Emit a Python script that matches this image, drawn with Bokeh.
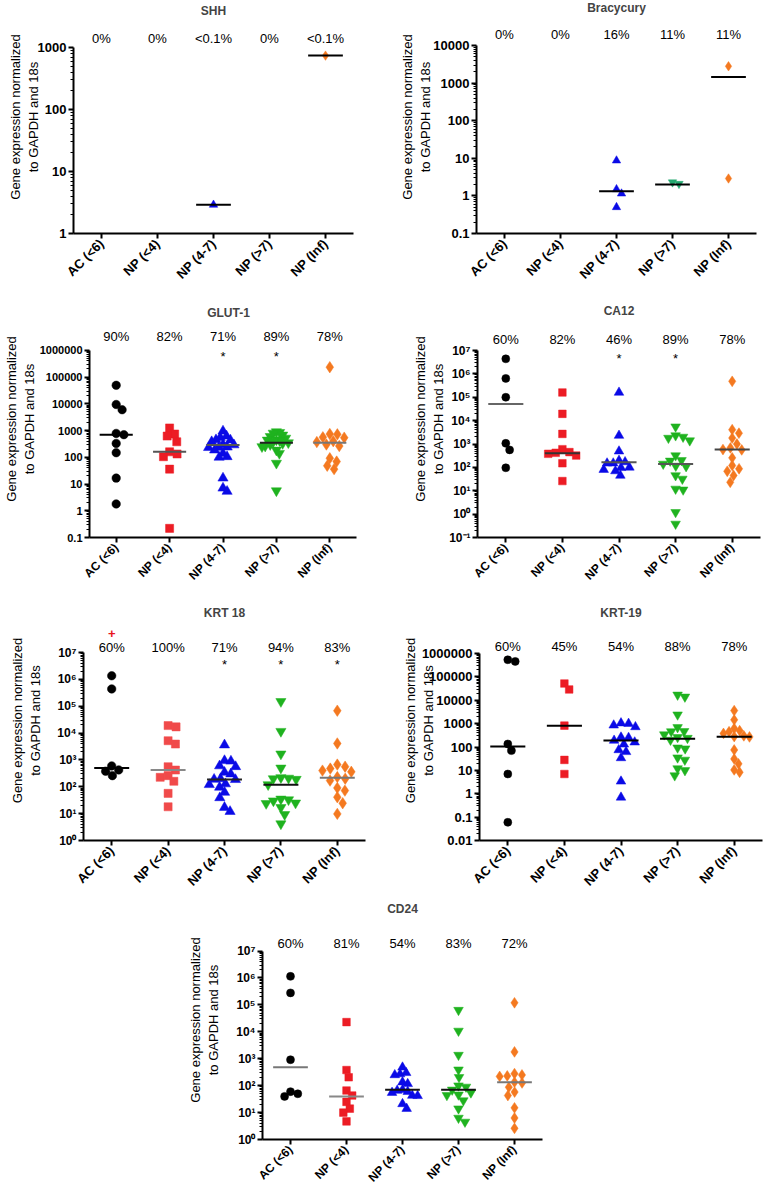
import math
import numpy as np
from bokeh.plotting import figure
from bokeh.core.properties import value
from bokeh.models import (ColumnDataSource, FactorRange, Range1d, FixedTicker,
                          CustomJSTickFormatter, Label, LabelSet, Spacer)
from bokeh.layouts import row, column
from bokeh.embed import file_html
from bokeh.resources import INLINE

# ---------------- data ----------------
CATEGORIES = ["AC (<6)", "NP (<4)", "NP (4-7)", "NP (>7)", "NP (Inf)"]
MARKERS = ["circle", "square", "triangle", "inverted_triangle", "diamond"]

SHH_VALUES = [[], [], [2.9], [], [740]]
SHH_MEDIANS = [None, None, 2.9, None, 740]
SHH_PCT = ["0%", "0%", "<0.1%", "0%", "<0.1%"]

BRA_VALUES = [[], [], [8.7, 1.5, 1.15, 0.5], [2.3, 2.1], [2800, 2.9]]
BRA_MEDIANS = [None, None, 1.33, 2.0, 1450]
BRA_PCT = ["0%", "0%", "16%", "11%", "11%"]

GLUT_VALUES = [
    [49000, 9400, 6000, 780, 700, 330, 148, 16.6, 1.8],
    [1250, 740, 620, 380, 160, 133, 105, 36, 0.22],
    [950, 620, 550, 450, 440, 380, 300, 290, 240, 235, 230, 186, 140, 105, 100, 16.6, 7, 5.3],
    [900, 850, 800, 680, 600, 520, 450, 440, 420, 380, 350, 330, 300, 263, 250, 186, 140, 60, 5.6],
    [234000, 740, 720, 560, 540, 400, 370, 300, 263, 92, 69, 48, 36],
]
GLUT_MEDIANS = [700, 160, 290, 350, 350]
GLUT_PCT = ["90%", "82%", "71%", "89%", "78%"]
GLUT_STARS = ["", "", "*", "*", ""]

CA12_VALUES = [
    [4.4e6, 6.4e5, 1.0e5, 1070, 560, 96],
    [160000, 19500, 2700, 600, 450, 420, 380, 320, 150, 26],
    [160000, 2300, 490, 195, 170, 150, 150, 100, 96, 80, 70, 45],
    [5500, 2300, 2000, 1800, 1400, 320, 200, 190, 140, 115, 110, 45, 32, 12, 11, 1.2, 0.38],
    [480000, 4100, 2900, 1800, 1000, 680, 580, 560, 255, 120, 87, 68, 45, 23],
]
CA12_MEDIANS = [51000, 400, 165, 140, 575]
CA12_PCT = ["60%", "82%", "46%", "89%", "78%"]
CA12_STARS = ["", "", "*", "*", ""]

KRT18_VALUES = [
    [1.36e6, 4.4e5, 600, 425, 380, 260],
    [19000, 17000, 5200, 3900, 560, 420, 260, 225, 160, 57, 18],
    [3600, 940, 900, 600, 560, 345, 300, 200, 190, 185, 128, 120, 96, 62, 39, 17, 12],
    [150000, 11600, 1670, 500, 220, 210, 200, 190, 120, 35, 33, 30, 25, 24, 17, 9.3, 4.2],
    [68000, 4100, 670, 560, 475, 400, 360, 230, 200, 170, 91, 72, 41, 24.5, 9.8],
]
KRT18_MEDIANS = [500, 425, 185, 120, 215]
KRT18_PCT = ["60%", "100%", "71%", "94%", "83%"]
KRT18_STARS = ["", "", "*", "*", "*"]
KRT18_PLUS = ["+", "", "", "", ""]

KRT19_VALUES = [
    [540000, 460000, 135, 70, 7, 0.06],
    [52000, 29000, 820, 28, 7],
    [1050, 1000, 850, 720, 260, 250, 190, 160, 130, 75, 62, 34, 3.4, 0.7],
    [17000, 14000, 2400, 690, 470, 460, 340, 260, 240, 200, 93, 85, 35, 28, 12, 10, 6],
    [3600, 1450, 620, 500, 450, 380, 300, 280, 270, 75, 31, 19, 10.5, 8.3],
]
KRT19_MEDIANS = [104, 820, 190, 225, 275]
KRT19_PCT = ["60%", "45%", "54%", "88%", "78%"]

CD24_VALUES = [
    [1.15e6, 2.8e5, 920, 60, 50, 40],
    [23000, 380, 205, 66, 43, 25, 14, 10, 4.7],
    [480, 300, 270, 250, 135, 117, 70, 66, 60, 55, 43, 42, 21, 14],
    [64000, 10800, 1370, 390, 205, 100, 90, 70, 55, 46, 44, 28, 14, 6.3, 4.5],
    [120000, 1800, 280, 250, 230, 220, 135, 126, 88, 58, 43, 15, 6.3, 2.6],
]
CD24_MEDIANS = [480, 40, 70, 70, 135]
CD24_PCT = ["60%", "81%", "54%", "83%", "72%"]

Y_LABEL = "Gene expression normalized\nto GAPDH and 18s"

# ---------------- styles ----------------
FONT = "Liberation Sans"
COLORS = ["#000000", "#EC1C24", "#0A0AE6", "#1FB21F", "#F47920"]
COLORS_BRA = ["#000000", "#EC1C24", "#0A0AE6", "#25A870", "#F47920"]
COLORS_KRT18 = ["#000000", "#F04A4A", "#0A0AE6", "#1FB21F", "#F47920"]
MARKER_SCALE = {"circle": 1.0, "square": 0.95, "triangle": 1.2,
                "inverted_triangle": 1.2, "diamond": 1.35}

PLAIN_JS = """
const e = Math.round(Math.log10(tick));
if (e >= 0) { return "1" + "0".repeat(e); }
return "0." + "0".repeat(-e - 1) + "1";
"""
SUP_JS = """
const e = Math.round(Math.log10(tick));
const m = {"-": "\u207b", "0": "\u2070", "1": "\u00b9", "2": "\u00b2", "3": "\u00b3",
           "4": "\u2074", "5": "\u2075", "6": "\u2076", "7": "\u2077", "8": "\u2078", "9": "\u2079"};
return "10" + String(e).split("").map(c => m[c]).join("");
"""


def swarm(vals, px_per_dec, d, maxw):
    """Beeswarm horizontal offsets (pixels), squeezed to +-maxw."""
    vals = np.asarray(vals, dtype=float)
    ys = np.log10(vals) * px_per_dec
    order = np.argsort(-ys, kind="stable")
    placed = []
    xs = np.zeros(len(vals))
    for i in order:
        y = ys[i]
        forb = []
        for (px, py) in placed:
            dy = abs(py - y)
            if dy < d:
                w = math.sqrt(d * d - dy * dy)
                forb.append((px - w, px + w))
        cands = [0.0] + [e for iv in forb for e in iv]
        cands.sort(key=lambda c: (round(abs(c), 6), -c))
        chosen = 0.0
        for c in cands:
            if all(not (lo + 1e-6 < c < hi - 1e-6) for lo, hi in forb):
                chosen = c
                break
        xs[i] = chosen
        placed.append((chosen, y))
    m = np.max(np.abs(xs)) if len(xs) else 0
    if m > maxw:
        xs = xs * (maxw / m)
    return xs


def make_panel(title, values, medians, pcts, dec_lo, dec_hi, w, h, left, right, top, bottom,
               sup=False, stars=None, plus=None, median_colors=None, colors=COLORS,
               msize=8, tick_fs="12px", cat_fs="12px", title_dy=38, pct_dy=9,
               star_dy=-7, plus_dy=19, ylab_standoff=0):
    fh = h - top - bottom          # height of the y axis (bottom tick to top tick)
    fw = w - left - right
    px_per_dec = fh / (dec_hi - dec_lo)
    spacing = fw / len(CATEGORIES)
    y_end = 10.0 ** (dec_hi + top / px_per_dec)   # frame reaches the top of the figure
    p = figure(width=w, height=h, x_range=FactorRange(*CATEGORIES),
               y_range=Range1d(10.0 ** dec_lo, y_end), y_axis_type="log",
               output_backend="svg", toolbar_location=None,
               min_border_left=left, min_border_right=right,
               min_border_top=0, min_border_bottom=bottom)
    p.title.visible = False
    p.outline_line_color = None
    p.xgrid.visible = False
    p.ygrid.visible = False
    p.background_fill_color = "white"
    p.border_fill_color = "white"

    if median_colors is None:
        median_colors = ["#000000"] * 5

    for i, cat in enumerate(CATEGORIES):
        vals = values[i]
        if len(vals) == 0:
            continue
        mk = MARKERS[i]
        sz = msize * MARKER_SCALE[mk]
        offs = swarm(vals, px_per_dec, msize * 0.95, 0.27 * spacing) / spacing
        src = ColumnDataSource(dict(x=[(cat, float(o)) for o in offs], y=list(vals)))
        p.scatter(x="x", y="y", source=src, marker=mk, size=sz,
                  fill_color=colors[i], line_color=colors[i], line_width=0.5)
    for i, cat in enumerate(CATEGORIES):
        if medians[i] is None:
            continue
        p.rect(x=[cat], y=[medians[i]], width=0.62, height=2, height_units="screen",
               fill_color=median_colors[i], line_color=None)

    # axes
    majors = [10.0 ** k for k in range(dec_lo, dec_hi + 1)]
    minors = [m * 10.0 ** k for k in range(dec_lo, dec_hi) for m in range(2, 10)]
    p.yaxis.ticker = FixedTicker(ticks=majors, minor_ticks=minors)
    p.yaxis.bounds = (10.0 ** dec_lo, 10.0 ** dec_hi)
    p.yaxis.formatter = CustomJSTickFormatter(code=SUP_JS if sup else PLAIN_JS)
    for ax in (p.xaxis, p.yaxis):
        ax.axis_line_width = 2
        ax.axis_line_color = "black"
        ax.major_tick_line_width = 2
        ax.major_tick_line_color = "black"
        ax.major_tick_in = 0
        ax.major_tick_out = 5
        ax.major_label_text_font = FONT
        ax.major_label_text_font_style = "bold"
        ax.major_label_text_color = "black"
    p.yaxis.minor_tick_in = 0
    p.yaxis.minor_tick_out = 3
    p.yaxis.minor_tick_line_color = "black"
    p.yaxis.minor_tick_line_width = 1
    p.yaxis.major_label_text_font_size = tick_fs
    p.yaxis.major_label_standoff = 2
    p.yaxis.axis_label = Y_LABEL
    p.yaxis.axis_label_text_font = FONT
    p.yaxis.axis_label_text_font_size = "13px"
    p.yaxis.axis_label_text_font_style = "normal"
    p.yaxis.axis_label_text_color = "black"
    p.yaxis.axis_label_standoff = ylab_standoff
    p.xaxis.minor_tick_line_color = None
    p.xaxis.major_label_text_font_size = cat_fs
    p.xaxis.major_label_orientation = math.pi / 4
    p.xaxis.major_label_standoff = 3

    # texts above the y axis (inside the frame)
    p.add_layout(Label(x=fw / 2, y=fh + title_dy, x_units="screen", y_units="screen",
                       text=title, text_font=FONT, text_font_style="bold",
                       text_font_size="12px", text_align="center", text_baseline="middle"))
    psrc = ColumnDataSource(dict(x=CATEGORIES, t=pcts))
    p.add_layout(LabelSet(x="x", y=fh + pct_dy, y_units="screen", text="t", source=psrc,
                          text_font=value(FONT), text_font_size="13px", text_align="center",
                          text_baseline="middle", text_color="black"))
    if stars is not None:
        ssrc = ColumnDataSource(dict(x=CATEGORIES, t=stars))
        p.add_layout(LabelSet(x="x", y=fh + star_dy, y_units="screen", text="t", source=ssrc,
                              text_font=value(FONT), text_font_size="13px", text_align="center",
                              text_baseline="middle", text_color="black"))
    if plus is not None:
        plsrc = ColumnDataSource(dict(x=CATEGORIES, t=plus))
        p.add_layout(LabelSet(x="x", y=fh + plus_dy, y_units="screen", text="t", source=plsrc,
                              text_font=value(FONT), text_font_size="13px",
                              text_font_style="bold", text_align="center",
                              text_baseline="middle", text_color="#E8141C"))
    return p


p_shh = make_panel("SHH", SHH_VALUES, SHH_MEDIANS, SHH_PCT, 0, 3,
                   382, 300, 73, 29, 47, 67, msize=7, tick_fs="13px", cat_fs="13px",
                   title_dy=37, pct_dy=9, ylab_standoff=-6)
p_bra = make_panel("Bracycury", BRA_VALUES, BRA_MEDIANS, BRA_PCT, -1, 4,
                   382, 300, 94, 8, 45, 67, colors=COLORS_BRA, msize=7, tick_fs="13px",
                   cat_fs="13px", title_dy=38, pct_dy=11, ylab_standoff=-3)
p_glut = make_panel("GLUT-1", GLUT_VALUES, GLUT_MEDIANS, GLUT_PCT, -1, 6,
                    382, 300, 78, 26, 50, 62, stars=GLUT_STARS,
                    median_colors=["#000000", "#555555", "#555555", "#222222", "#777777"],
                    msize=8.5, tick_fs="11px", cat_fs="12px", title_dy=37, pct_dy=13,
                    star_dy=-6.6, ylab_standoff=0)
p_ca12 = make_panel("CA12", CA12_VALUES, CA12_MEDIANS, CA12_PCT, -1, 7,
                    382, 300, 95, 4, 50, 63, sup=True, stars=CA12_STARS,
                    median_colors=["#666666", "#333333", "#555555", "#555555", "#444444"],
                    msize=8, tick_fs="12px", cat_fs="12px", title_dy=40, pct_dy=11,
                    star_dy=-7.6, ylab_standoff=0)
p_krt18 = make_panel("KRT 18", KRT18_VALUES, KRT18_MEDIANS, KRT18_PCT, 0, 7,
                     382, 300, 83, 17, 52, 60, sup=True, stars=KRT18_STARS, plus=KRT18_PLUS,
                     colors=COLORS_KRT18,
                     median_colors=["#000000", "#888888", "#222222", "#111111", "#777777"],
                     msize=8.5, tick_fs="12px", cat_fs="13px", title_dy=40, pct_dy=5,
                     star_dy=-11.6, plus_dy=19, ylab_standoff=11)
p_krt19 = make_panel("KRT-19", KRT19_VALUES, KRT19_MEDIANS, KRT19_PCT, -2, 6,
                     382, 300, 97, 2, 53, 60, msize=8, tick_fs="13px", cat_fs="13px",
                     title_dy=41, pct_dy=7, ylab_standoff=-17)
p_cd24 = make_panel("CD24", CD24_VALUES, CD24_MEDIANS, CD24_PCT, 0, 7,
                    440, 292, 112, 48, 51, 51, sup=True,
                    median_colors=["#777777", "#888888", "#111111", "#111111", "#777777"],
                    msize=8, tick_fs="12px", cat_fs="12px", title_dy=41, pct_dy=6,
                    ylab_standoff=12)

layout = column(
    row(p_shh, p_bra),
    row(p_glut, p_ca12),
    row(p_krt18, p_krt19),
    row(Spacer(width=150, height=292), p_cd24),
)

open("out.html", "w").write(file_html(layout, INLINE))
